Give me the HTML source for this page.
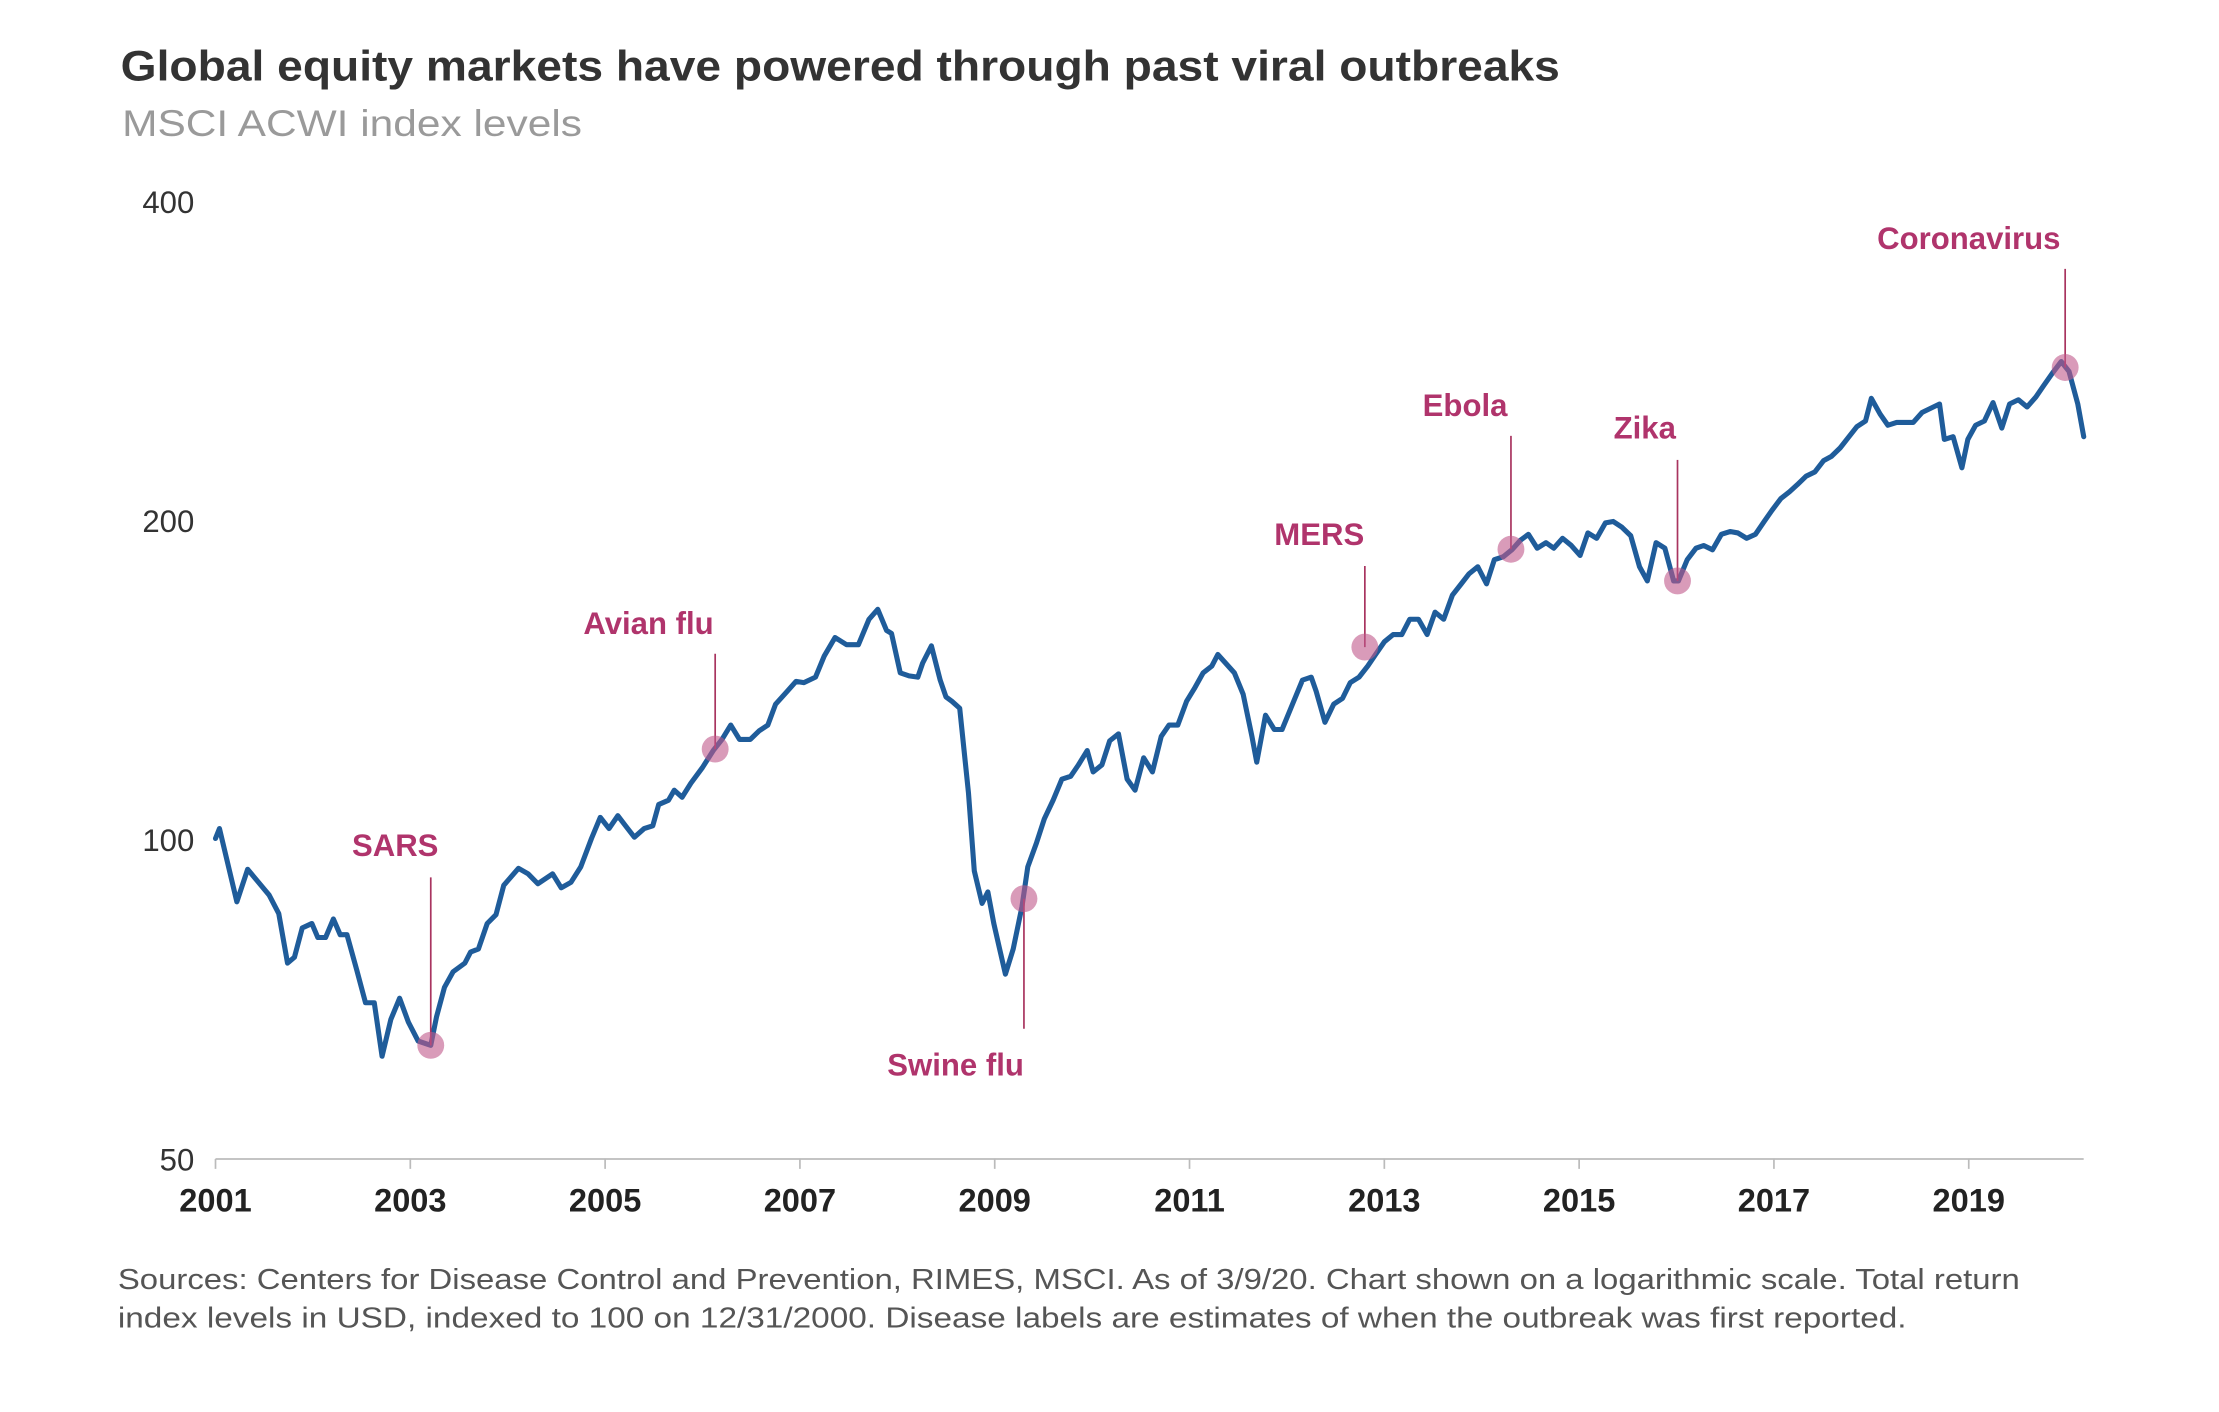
<!DOCTYPE html>
<html><head><meta charset="utf-8"><style>
html,body{margin:0;padding:0;background:#fff;}
svg{display:block;}
text{font-family:"Liberation Sans",sans-serif;}
</style></head><body>
<svg id="chart" width="2219" height="1412" viewBox="0 0 1567.5 997.8" xmlns="http://www.w3.org/2000/svg">
<text x="85" y="57" font-size="30" font-weight="bold" fill="#333" textLength="1017" lengthAdjust="spacingAndGlyphs">Global equity markets have powered through past viral outbreaks</text>
<text x="86" y="96" font-size="26" fill="#9a9a9a" textLength="325" lengthAdjust="spacingAndGlyphs">MSCI ACWI index levels</text>
<g id="axes"></g>
<g id="series"></g>
<g id="events"></g>
<text x="83" y="911" font-size="20" fill="#555" textLength="1344" lengthAdjust="spacingAndGlyphs">Sources: Centers for Disease Control and Prevention, RIMES, MSCI. As of 3/9/20. Chart shown on a logarithmic scale. Total return</text>
<text x="83" y="938" font-size="20" fill="#555" textLength="1264" lengthAdjust="spacingAndGlyphs">index levels in USD, indexed to 100 on 12/31/2000. Disease labels are estimates of when the outbreak was first reported.</text>
</svg>
<script>
const yTicks=[50,100,200,400];
const xTicks=[2001,2003,2005,2007,2009,2011,2013,2015,2017,2019];
const dates=[2001.00,2001.04,2001.22,2001.33,2001.55,2001.65,2001.74,2001.81,2001.89,2001.99,2002.05,2002.13,2002.21,2002.28,2002.35,2002.45,2002.54,2002.63,2002.71,2002.80,2002.89,2002.98,2003.08,2003.21,2003.27,2003.35,2003.44,2003.56,2003.62,2003.70,2003.79,2003.88,2003.96,2004.11,2004.21,2004.31,2004.46,2004.55,2004.65,2004.75,2004.86,2004.95,2005.04,2005.13,2005.21,2005.30,2005.40,2005.49,2005.55,2005.65,2005.71,2005.79,2005.88,2006.00,2006.11,2006.20,2006.29,2006.38,2006.49,2006.58,2006.67,2006.75,2006.87,2006.96,2007.04,2007.16,2007.25,2007.36,2007.48,2007.60,2007.71,2007.80,2007.89,2007.94,2008.03,2008.12,2008.21,2008.26,2008.35,2008.44,2008.50,2008.56,2008.64,2008.73,2008.79,2008.87,2008.93,2008.99,2009.05,2009.11,2009.19,2009.28,2009.34,2009.43,2009.51,2009.60,2009.69,2009.78,2009.86,2009.95,2010.01,2010.10,2010.18,2010.27,2010.36,2010.44,2010.53,2010.62,2010.71,2010.79,2010.88,2010.97,2011.05,2011.14,2011.23,2011.29,2011.37,2011.46,2011.55,2011.64,2011.69,2011.78,2011.87,2011.95,2012.07,2012.16,2012.25,2012.30,2012.39,2012.48,2012.57,2012.65,2012.74,2012.83,2012.91,2013.00,2013.09,2013.18,2013.26,2013.35,2013.44,2013.52,2013.61,2013.70,2013.79,2013.87,2013.96,2014.05,2014.13,2014.22,2014.31,2014.40,2014.48,2014.57,2014.66,2014.74,2014.83,2014.92,2015.01,2015.09,2015.18,2015.27,2015.35,2015.44,2015.53,2015.62,2015.70,2015.79,2015.88,2015.97,2016.02,2016.11,2016.20,2016.28,2016.37,2016.46,2016.55,2016.63,2016.72,2016.81,2016.90,2016.98,2017.07,2017.16,2017.24,2017.33,2017.42,2017.51,2017.59,2017.68,2017.77,2017.85,2017.94,2018.00,2018.09,2018.17,2018.26,2018.35,2018.43,2018.52,2018.61,2018.70,2018.75,2018.84,2018.93,2018.99,2019.07,2019.16,2019.25,2019.34,2019.42,2019.51,2019.60,2019.69,2019.77,2019.86,2019.95,2020.03,2020.12,2020.18];
const values=[100.3,102.5,87.4,93.8,88.7,85.2,76.5,77.5,82.6,83.4,80.9,80.9,84.2,81.4,81.4,75.4,70.2,70.2,62.5,67.7,70.9,67.3,64.6,64.0,68.1,72.6,75.1,76.5,78.4,78.9,83.4,85.0,90.6,94.0,92.9,90.9,92.9,90.1,91.2,94.3,100.3,105.0,102.5,105.4,103.1,100.6,102.5,103.1,108.0,109.0,111.4,109.7,113.1,117.0,121.4,124.4,128.3,124.4,124.4,126.7,128.3,134.3,138.1,141.1,140.7,142.4,149.1,155.2,152.8,152.8,161.5,165.0,157.6,156.6,143.7,142.8,142.4,146.8,152.4,141.5,136.4,135.1,133.1,110.7,93.5,87.1,89.3,83.4,78.9,74.7,78.9,86.5,94.3,99.4,104.7,109.0,114.1,114.8,117.7,121.4,115.9,117.7,124.0,125.9,114.1,111.4,119.5,115.9,125.2,128.3,128.3,135.1,138.9,143.7,145.9,149.6,146.8,143.7,137.2,125.2,118.4,131.1,127.1,127.1,135.1,141.5,142.4,138.1,129.1,134.3,136.0,140.7,142.4,145.9,149.6,153.8,156.2,156.2,161.5,161.5,156.2,164.0,161.5,170.2,174.4,178.2,181.0,174.4,183.8,184.9,187.8,191.8,194.2,188.4,190.7,188.4,192.5,189.5,185.5,194.8,192.5,199.1,199.7,197.2,193.6,181.0,175.5,190.7,188.4,175.5,175.5,183.8,188.4,189.5,187.8,194.2,195.4,194.8,192.5,194.2,199.7,204.6,209.8,213.0,216.3,220.3,222.4,227.9,230.0,234.3,240.1,245.3,248.4,260.9,252.2,246.1,247.6,247.6,247.6,253.0,255.4,257.7,238.7,240.1,224.4,238.7,246.1,248.4,258.5,244.6,257.7,260.1,256.1,261.7,268.2,275.7,282.6,276.6,257.7,240.1];
const eventNames=["SARS","Avian flu","Swine flu","MERS","Ebola","Zika","Coronavirus"];
const eventDates=[2003.21,2006.13,2009.30,2012.80,2014.30,2016.01,2019.99];
const eventValues=[64.0,121.8,88.0,152.0,188.0,175.5,279.0];
// layout (label anchor positions, not data)
const labelPos=[[279,605,620],[458,448,462],[675,760,727],[932,385,400],[1035,294,308],[1162,310,325],[1391,176,190]];

const NS="http://www.w3.org/2000/svg";
const X0=152,PX_PER_YEAR=68.83,Y50=819,PX_PER_OCT=225.5;
function xs(t){return X0+(t-2001)*PX_PER_YEAR;}
function ys(v){return Y50-Math.log2(v/50)*PX_PER_OCT;}
function mk(tag,attrs,parent){const e=document.createElementNS(NS,tag);for(const k in attrs)e.setAttribute(k,attrs[k]);parent.appendChild(e);return e;}

const axes=document.getElementById('axes');
let axl=mk('line',{x1:xs(2001),x2:xs(2020.18),y1:ys(50),y2:ys(50),stroke:'#bbb','stroke-width':1.2},axes);


yTicks.forEach(v=>{
  const t=mk('text',{x:137,y:ys(v)+8,'text-anchor':'end','font-size':22,fill:'#333'},axes);
  
  
  t.textContent=v;
});
xTicks.forEach(yr=>{
  const tk=mk('line',{x1:xs(yr),x2:xs(yr),y1:ys(50),y2:ys(50)+7,stroke:'#bbb','stroke-width':1.2},axes);
  
  
  const t=mk('text',{x:xs(yr),y:ys(50)+37,'text-anchor':'middle','font-size':23,'font-weight':'bold',fill:'#222'},axes);
  
  
  t.textContent=yr;
});

const series=document.getElementById('series');
const d=dates.map((t,i)=>(i?'L':'M')+xs(t).toFixed(1)+','+ys(values[i]).toFixed(1)).join(' ');
const line=mk('path',{d:d,fill:'none',stroke:'#1f5c9a','stroke-width':3.6,'stroke-linejoin':'round','stroke-linecap':'round'},series);



const ev=document.getElementById('events');
eventNames.forEach((n,i)=>{
  const cx=xs(eventDates[i]),cy=ys(eventValues[i]);
  const L=labelPos[i];
  const ln=mk('line',{x1:cx,x2:cx,y1:L[2],y2:cy,stroke:'#a8345f','stroke-width':1.2},ev);
  
  
  const c=mk('circle',{cx:cx,cy:cy,r:9.5,fill:'#c0588a','fill-opacity':0.6},ev);
  
  
  const t=mk('text',{x:L[0],y:L[1],'text-anchor':'middle','font-size':22,'font-weight':'bold',fill:'#b0346c'},ev);
  
  
  t.textContent=n;
});
</script>
</body></html>
